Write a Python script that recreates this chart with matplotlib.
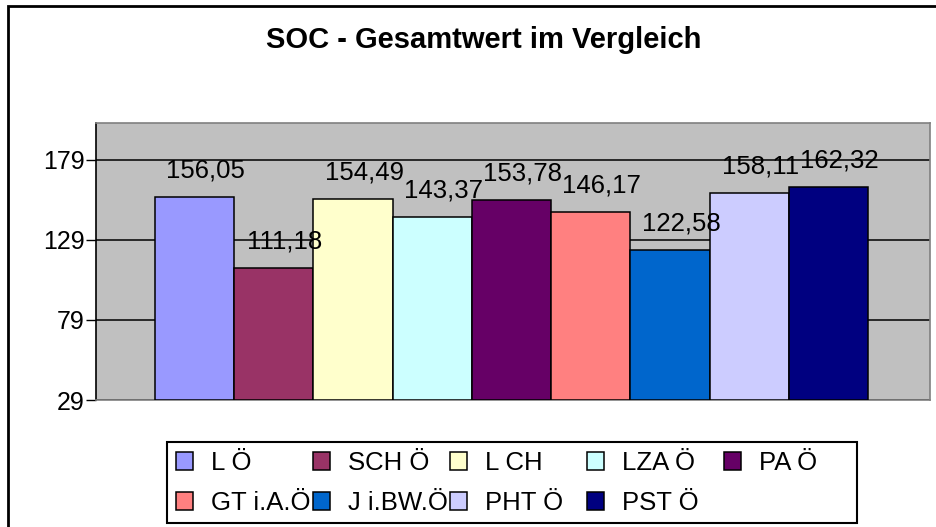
import matplotlib
matplotlib.use("Agg")
import matplotlib.pyplot as plt
from matplotlib.patches import Rectangle

plt.rcParams['font.family'] = ['Liberation Sans', 'DejaVu Sans']

title = "SOC - Gesamtwert im Vergleich"
series = ["L Ö", "SCH Ö", "L CH", "LZA Ö", "PA Ö", "GT i.A.Ö", "J i.BW.Ö", "PHT Ö", "PST Ö"]
values = [156.05, 111.18, 154.49, 143.37, 153.78, 146.17, 122.58, 158.11, 162.32]
colors = ["#9999FF", "#993366", "#FFFFCC", "#CCFFFF", "#660066",
          "#FF8080", "#0066CC", "#CCCCFF", "#000080"]
yticks = [29, 79, 129, 179]

W, H = 936, 527
fig = plt.figure(figsize=(W / 100, H / 100), dpi=100)
fig.patch.set_facecolor("white")

# plot area in pixels
L, R, T, B = 96, 930, 123, 400
ax = fig.add_axes([L / W, 1 - B / H, (R - L) / W, (B - T) / H])
ax.set_facecolor("#C0C0C0")

handles = []
for i, (name, v, c) in enumerate(zip(series, values, colors)):
    bc = ax.bar(i, v - 29, bottom=29, width=1.0, color=c, edgecolor="black",
                linewidth=1.1, label=name, zorder=3)
    handles.append(bc)
    ax.annotate(f"{v:.2f}".replace(".", ","), xy=(i, v), xytext=(8, 14),
                textcoords="offset points", ha="center", va="baseline",
                fontsize=18.5, zorder=5, annotation_clip=False)

ax.set_xlim(-1.245, 9.283)
ax.set_ylim(29, 202)
ax.set_yticks(yticks)
ax.set_yticklabels([str(t) for t in yticks])
ax.tick_params(axis="y", labelsize=18, length=7.2, width=1.0, pad=0.8, direction="out")
ax.set_xticks([])
ax.yaxis.grid(True, color="black", linewidth=1.1)
ax.set_axisbelow(True)
for s in ["top", "right", "bottom"]:
    ax.spines[s].set_color("#808080")
    ax.spines[s].set_linewidth(1.2)
ax.spines["left"].set_color("black")
ax.spines["left"].set_linewidth(1.2)

# title
fig.text(484 / W, 1 - 48 / H, title, ha="center", va="baseline",
         fontsize=21, fontweight="bold")

# chart area border (extends beyond the cropped picture)
fig.add_artist(Rectangle((8 / W, -0.5), 2.0, (1 - 6 / H) + 0.5,
                         transform=fig.transFigure, fill=False,
                         edgecolor="black", linewidth=2.0))

# legend frame
lx0, lx1, ly0, ly1 = 167, 857, 442, 523
fig.add_artist(Rectangle((lx0 / W, 1 - ly1 / H), (lx1 - lx0) / W, (ly1 - ly0) / H,
                         transform=fig.transFigure, fill=False,
                         edgecolor="black", linewidth=1.5))

col_x = [176, 313, 450, 587, 724]
row_y = [463, 503]
for k, h in enumerate(handles):
    r, cidx = divmod(k, 5)
    fig.legend(handles=[h], labels=[series[k]], loc="center left",
               bbox_to_anchor=(col_x[cidx] / W, 1 - row_y[r] / H),
               bbox_transform=fig.transFigure, frameon=False, fontsize=18.5,
               handlelength=0.68, handleheight=0.68, handletextpad=0.7,
               borderpad=0, borderaxespad=0)

fig.savefig("out.png", dpi=100)
